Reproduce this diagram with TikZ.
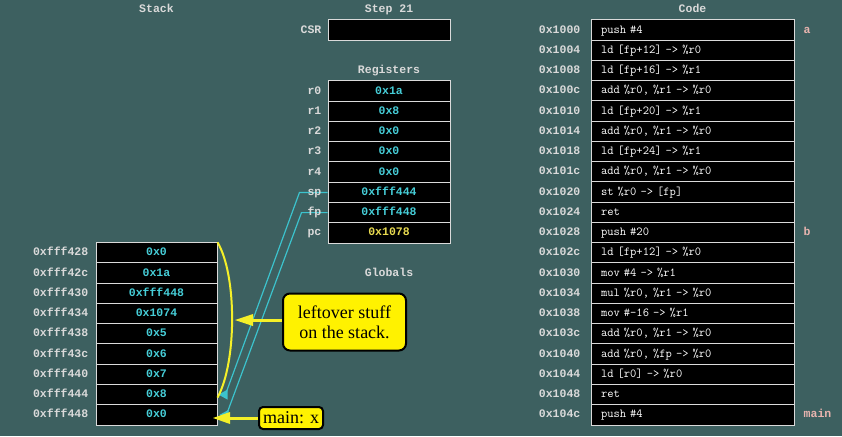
\documentclass[tikz,border=0pt]{standalone}
\usepackage{fontspec}
\setmainfont{Liberation Serif}
\newfontfamily\boldmono{Liberation Mono}
\usetikzlibrary{positioning}
\definecolor{bgteal}{RGB}{61,96,96}
\definecolor{valcyan}{RGB}{70,205,215}
\definecolor{pcyellow}{RGB}{232,218,80}
\definecolor{lblgray}{RGB}{218,218,218}
\definecolor{tagpink}{RGB}{232,180,175}
\definecolor{ptrcyan}{RGB}{60,195,205}
\definecolor{hlyellow}{RGB}{245,240,40}
\newcommand{\lblfont}{\boldmono\bfseries\fontsize{11.5}{12}\selectfont}
\newcommand{\instrfont}{\ttfamily\fontsize{12.2}{13}\selectfont}
\newcommand{\notefont}{\fontsize{18}{20}\selectfont}
\begin{document}
\begin{tikzpicture}[x=1pt,y=-1pt]
    \tikzstyle{every node}+=[inner sep=0pt]
    \tikzstyle{cell}=[draw=lblgray, fill=black, line width=1, minimum height=20.25, text height=8.5, text depth=2.5]
    \tikzstyle{stk}=[cell, minimum width=121, text=valcyan, font=\lblfont]
    \tikzstyle{reg}=[cell, minimum width=122, text=valcyan, font=\lblfont]
    \tikzstyle{instr}=[cell, text width=183, inner xsep=10, align=left, text=white, font=\instrfont]
    \tikzstyle{lbl}=[text=lblgray, font=\lblfont, text height=8.5, text depth=2.5]
    \tikzstyle{tag}=[lbl, text=tagpink]
    \tikzstyle{note}=[draw=black, line width=2, fill=yellow, rounded corners=7, align=center, font=\notefont]
    \tikzstyle{ptr}=[ptrcyan, line width=1.2]
    \tikzstyle{hl}=[hlyellow, line width=3]
    \useasboundingbox (0,0) rectangle (842,436);
    \fill [bgteal] (0,0) rectangle (842,436);
    \node [lbl] (tstack) at (156.5,10) {Stack};
    \node [lbl] (tstep) at (389,10) {Step 21};
    \node [lbl] (tcode) at (692.5,10) {Code};
    \node [cell, minimum width=122, minimum height=21] (csr) at (389,30.5) {};
    \node [lbl, left=6pt of csr] (lcsr) {CSR};
    \node [lbl] (tregs) at (389,71) {Registers};
    \node [reg] (r0) at (389,91.1) {0x1a};
    \node [reg] (r1) at (389,111.4) {0x8};
    \node [reg] (r2) at (389,131.6) {0x0};
    \node [reg] (r3) at (389,151.9) {0x0};
    \node [reg] (r4) at (389,172.1) {0x0};
    \node [reg] (sp) at (389,192.4) {0xfff444};
    \node [reg] (fp) at (389,212.6) {0xfff448};
    \node [reg, text=pcyellow] (pc) at (389,232.9) {0x1078};
    \node [lbl] (tglob) at (389,273) {Globals};
    \node [stk] (s428) at (156.5,252.9) {0x0};
    \node [stk] (s42c) at (156.5,273.1) {0x1a};
    \node [stk] (s430) at (156.5,293.4) {0xfff448};
    \node [stk] (s434) at (156.5,313.6) {0x1074};
    \node [stk] (s438) at (156.5,333.9) {0x5};
    \node [stk] (s43c) at (156.5,354.1) {0x6};
    \node [stk] (s440) at (156.5,374.4) {0x7};
    \node [stk] (s444) at (156.5,394.6) {0x8};
    \node [stk] (s448) at (156.5,414.9) {0x0};
    \node [lbl, left=7pt of s428] {0xfff428};
    \node [lbl, left=7pt of s42c] {0xfff42c};
    \node [lbl, left=7pt of s430] {0xfff430};
    \node [lbl, left=7pt of s434] {0xfff434};
    \node [lbl, left=7pt of s438] {0xfff438};
    \node [lbl, left=7pt of s43c] {0xfff43c};
    \node [lbl, left=7pt of s440] {0xfff440};
    \node [lbl, left=7pt of s444] {0xfff444};
    \node [lbl, left=7pt of s448] {0xfff448};
    \node [instr] (i1000) at (692.5,30.1) {push \#4};
    \node [instr] (i1004) at (692.5,50.4) {ld [fp+12] -> \%r0};
    \node [instr] (i1008) at (692.5,70.6) {ld [fp+16] -> \%r1};
    \node [instr] (i100c) at (692.5,90.9) {add \%r0, \%r1 -> \%r0};
    \node [instr] (i1010) at (692.5,111.1) {ld [fp+20] -> \%r1};
    \node [instr] (i1014) at (692.5,131.4) {add \%r0, \%r1 -> \%r0};
    \node [instr] (i1018) at (692.5,151.6) {ld [fp+24] -> \%r1};
    \node [instr] (i101c) at (692.5,171.9) {add \%r0, \%r1 -> \%r0};
    \node [instr] (i1020) at (692.5,192.1) {st \%r0 -> [fp]};
    \node [instr] (i1024) at (692.5,212.4) {ret};
    \node [instr] (i1028) at (692.5,232.6) {push \#20};
    \node [instr] (i102c) at (692.5,252.9) {ld [fp+12] -> \%r0};
    \node [instr] (i1030) at (692.5,273.1) {mov \#4 -> \%r1};
    \node [instr] (i1034) at (692.5,293.4) {mul \%r0, \%r1 -> \%r0};
    \node [instr] (i1038) at (692.5,313.6) {mov \#-16 -> \%r1};
    \node [instr] (i103c) at (692.5,333.9) {add \%r0, \%r1 -> \%r0};
    \node [instr] (i1040) at (692.5,354.1) {add \%r0, \%fp -> \%r0};
    \node [instr] (i1044) at (692.5,374.4) {ld [r0] -> \%r0};
    \node [instr] (i1048) at (692.5,394.6) {ret};
    \node [instr] (i104c) at (692.5,414.9) {push \#4};
    \node [lbl, left=10pt of i1000] {0x1000};
    \node [lbl, left=10pt of i1004] {0x1004};
    \node [lbl, left=10pt of i1008] {0x1008};
    \node [lbl, left=10pt of i100c] {0x100c};
    \node [lbl, left=10pt of i1010] {0x1010};
    \node [lbl, left=10pt of i1014] {0x1014};
    \node [lbl, left=10pt of i1018] {0x1018};
    \node [lbl, left=10pt of i101c] {0x101c};
    \node [lbl, left=10pt of i1020] {0x1020};
    \node [lbl, left=10pt of i1024] {0x1024};
    \node [lbl, left=10pt of i1028] {0x1028};
    \node [lbl, left=10pt of i102c] {0x102c};
    \node [lbl, left=10pt of i1030] {0x1030};
    \node [lbl, left=10pt of i1034] {0x1034};
    \node [lbl, left=10pt of i1038] {0x1038};
    \node [lbl, left=10pt of i103c] {0x103c};
    \node [lbl, left=10pt of i1040] {0x1040};
    \node [lbl, left=10pt of i1044] {0x1044};
    \node [lbl, left=10pt of i1048] {0x1048};
    \node [lbl, left=10pt of i104c] {0x104c};
    \node [tag, right=9pt of i1000] {a};
    \node [tag, right=9pt of i1028] {b};
    \node [tag, right=9pt of i104c] {main};
    \draw [ptr] (sp.west) -- ++(-28,0) -- ([shift={(9,-3)}]s444.east);
    \fill [ptrcyan] ([xshift=1]s444.east) -- ++(9,-5) -- ++(0,10) -- cycle;
    \draw [ptr] (fp.west) -- ++(-26,0) -- ([shift={(10,-3)}]s448.east);
    \fill [ptrcyan] ([xshift=2]s448.east) -- ++(9,-5) -- ++(0,10) -- cycle;
    \node [lbl, left=6pt of r0] {r0};
    \node [lbl, left=6pt of r1] {r1};
    \node [lbl, left=6pt of r2] {r2};
    \node [lbl, left=6pt of r3] {r3};
    \node [lbl, left=6pt of r4] {r4};
    \node [lbl, left=6pt of sp] {sp};
    \node [lbl, left=6pt of fp] {fp};
    \node [lbl, left=6pt of pc] {pc};
    \draw [hl, line width=2] (s428.north east) .. controls (237,275) and (237,362) .. ([yshift=-3]s444.east);
    \node [note, minimum width=123, minimum height=57] (leftover) at (344.5,322) {leftover stuff\\on the stack.};
    \coordinate (lefttip) at (235,320);
    \draw [hl] (leftover.west |- lefttip) -- ([xshift=17]lefttip);
    \fill [hlyellow] (lefttip) -- ++(18,-6) -- ++(0,12) -- cycle;
    \node [note, minimum width=64, minimum height=22, rounded corners=4] (mainx) at (291,418) {main: x};
    \coordinate (maintip) at (213,418);
    \draw [hl] (mainx.west) -- ([xshift=16]maintip);
    \fill [hlyellow] (maintip) -- ++(17,-6) -- ++(0,12) -- cycle;
\end{tikzpicture}
\end{document}
